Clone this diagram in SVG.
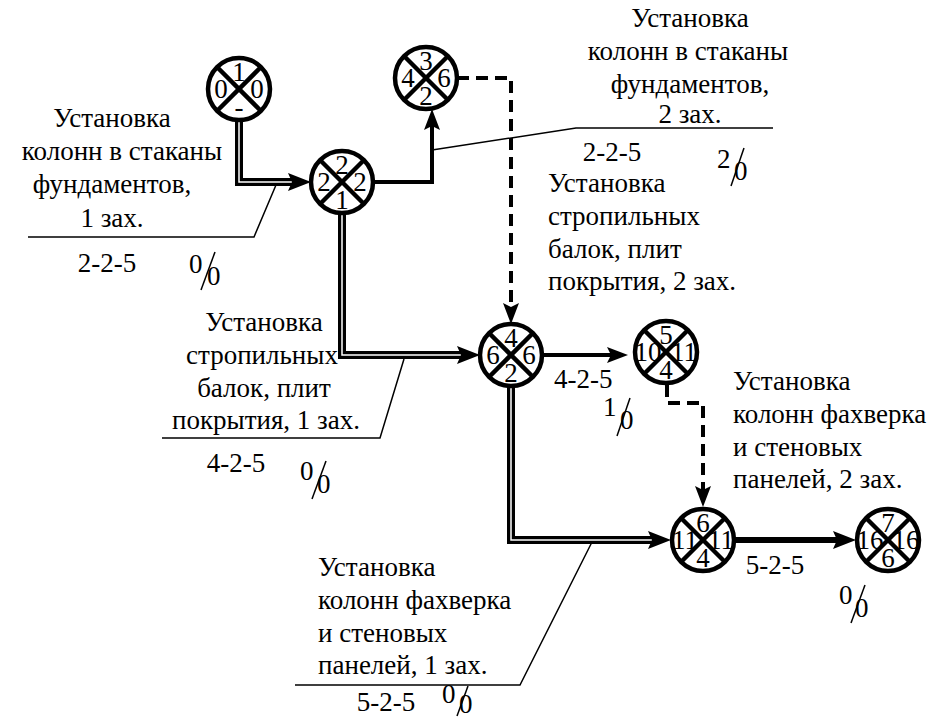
<svg xmlns="http://www.w3.org/2000/svg" width="941" height="720" viewBox="0 0 941 720">
<style>
text{font-family:"Liberation Serif","Times New Roman",serif;font-size:27px;fill:#000}
.c{text-anchor:middle}
.thin{stroke:#000;stroke-width:1.5;fill:none}
.sol{stroke:#000;stroke-width:4;fill:none}
.dash{stroke:#000;stroke-width:4;fill:none;stroke-dasharray:12 7}
.dblo{stroke:#000;stroke-width:8;fill:none}
.dbli{stroke:#fff;stroke-width:1.5;fill:none}
.thick{stroke:#000;stroke-width:6;fill:none}
.sl{stroke:#000;stroke-width:1.5}
</style>
<defs>
<g id="x"><circle r="31" fill="#fff" stroke="#000" stroke-width="4.5"/><line x1="-22" y1="-22" x2="22" y2="22" stroke="#000" stroke-width="4.5"/><line x1="-22" y1="22" x2="22" y2="-22" stroke="#000" stroke-width="4.5"/></g>
</defs>
<g id="connectors">
<path class="dblo" d="M239,120 V182 H300"/>
<path class="dbli" d="M239,120 V182 H300"/>
<polygon points="311,182 288,173 292,182 288,191"/>
<path class="dblo" d="M342,213 V355 H468"/>
<path class="dbli" d="M342,213 V355 H468"/>
<polygon points="480,355 457,346 461,355 457,364"/>
<path class="dblo" d="M511,386 V540 H660"/>
<path class="dbli" d="M511,386 V540 H660"/>
<polygon points="671,540 648,531 652,540 648,549"/>
<path class="thick" d="M735,540 H845"/>
<polygon points="856,540 833,531 837,540 833,549"/>
<path class="sol" d="M373,182 H432 V122"/>
<polygon points="432,109 424,130 432,126 440,130"/>
<path class="sol" d="M542,355 H615"/>
<polygon points="628,355 607,347 611,355 607,363"/>
<path class="dash" d="M457,78 H511 V312"/>
<polygon points="511,324 503,303 511,307 519,303"/>
<path class="dash" d="M667,385 V403 H703 V495"/>
<polygon points="703,507 695,486 703,490 711,486"/>
</g>
<g id="node1" transform="translate(239,89)"><use href="#x"/>
<text class="c" x="0" y="-8">1</text><text class="c" x="-18" y="9">0</text><text class="c" x="18" y="9">0</text><text class="c" x="0" y="27">-</text></g>
<g id="node2" transform="translate(342,182)"><use href="#x"/>
<text class="c" x="0" y="-8">2</text><text class="c" x="-18" y="9">2</text><text class="c" x="18" y="9">2</text><text class="c" x="0" y="27">1</text></g>
<g id="node3" transform="translate(426,78)"><use href="#x"/>
<text class="c" x="0" y="-8">3</text><text class="c" x="-18" y="9">4</text><text class="c" x="18" y="9">6</text><text class="c" x="0" y="27">2</text></g>
<g id="node4" transform="translate(511,355)"><use href="#x"/>
<text class="c" x="0" y="-8">4</text><text class="c" x="-18" y="9">6</text><text class="c" x="18" y="9">6</text><text class="c" x="0" y="27">2</text></g>
<g id="node5" transform="translate(666,352)"><use href="#x"/>
<text class="c" x="0" y="-8">5</text><text class="c" x="-18" y="9">10</text><text class="c" x="18" y="9">11</text><text class="c" x="0" y="27">4</text></g>
<g id="node6" transform="translate(703,540)"><use href="#x"/>
<text class="c" x="0" y="-8">6</text><text class="c" x="-18" y="9">11</text><text class="c" x="18" y="9">11</text><text class="c" x="0" y="27">4</text></g>
<g id="node7" transform="translate(888,540)"><use href="#x"/>
<text class="c" x="0" y="-8">7</text><text class="c" x="-18" y="9">16</text><text class="c" x="18" y="9">16</text><text class="c" x="0" y="27">6</text></g>
<g id="labels">
<text class="c" x="112" y="127">Установка</text>
<text class="c" x="122" y="160">колонн в стаканы</text>
<text class="c" x="112" y="193">фундаментов,</text>
<text class="c" x="112" y="227">1 зах.</text>
<polyline class="thin" points="28,237 254,237 276,185"/>
<text class="c" x="107" y="272">2-2-5</text>
<text x="189" y="273">0</text><line class="sl" x1="215" y1="252" x2="201" y2="290"/><text x="207" y="285">0</text>
<text class="c" x="690" y="27">Установка</text>
<text class="c" x="688" y="60">колонн в стаканы</text>
<text class="c" x="690" y="93">фундаментов,</text>
<text class="c" x="690" y="123">2 зах.</text>
<polyline class="thin" points="773,128 576,128 432,150"/>
<text class="c" x="612" y="161">2-2-5</text>
<text x="717" y="168">2</text><line class="sl" x1="744" y1="148" x2="731" y2="186"/><text x="734" y="180">0</text>
<text x="548" y="192">Установка</text>
<text x="548" y="225">стропильных</text>
<text x="548" y="258">балок, плит</text>
<text x="548" y="290">покрытия, 2 зах.</text>
<text x="554" y="388">4-2-5</text>
<text x="603" y="416">1</text><line class="sl" x1="630" y1="398" x2="617" y2="436"/><text x="620" y="429">0</text>
<text class="c" x="264" y="331">Установка</text>
<text class="c" x="262" y="364">стропильных</text>
<text class="c" x="264" y="397">балок, плит</text>
<text class="c" x="266" y="429">покрытия, 1 зах.</text>
<polyline class="thin" points="162,438 380,438 404,359"/>
<text class="c" x="236" y="472">4-2-5</text>
<text x="300" y="480">0</text><line class="sl" x1="326" y1="461" x2="312" y2="499"/><text x="317" y="493">0</text>
<text x="733" y="390">Установка</text>
<text x="733" y="423">колонн фахверка</text>
<text x="733" y="456">и стеновых</text>
<text x="733" y="488">панелей, 2 зах.</text>
<text class="c" x="775" y="574">5-2-5</text>
<text x="839" y="604">0</text><line class="sl" x1="865" y1="585" x2="851" y2="623"/><text x="855" y="617">0</text>
<text x="318" y="576">Установка</text>
<text x="318" y="609">колонн фахверка</text>
<text x="318" y="642">и стеновых</text>
<text x="318" y="674">панелей, 1 зах.</text>
<polyline class="thin" points="295,685 520,685 592,542"/>
<text class="c" x="386" y="711">5-2-5</text>
<text x="442" y="703">0</text><line class="sl" x1="468" y1="686" x2="457" y2="716"/><text x="459" y="713">0</text>
</g>
</svg>
